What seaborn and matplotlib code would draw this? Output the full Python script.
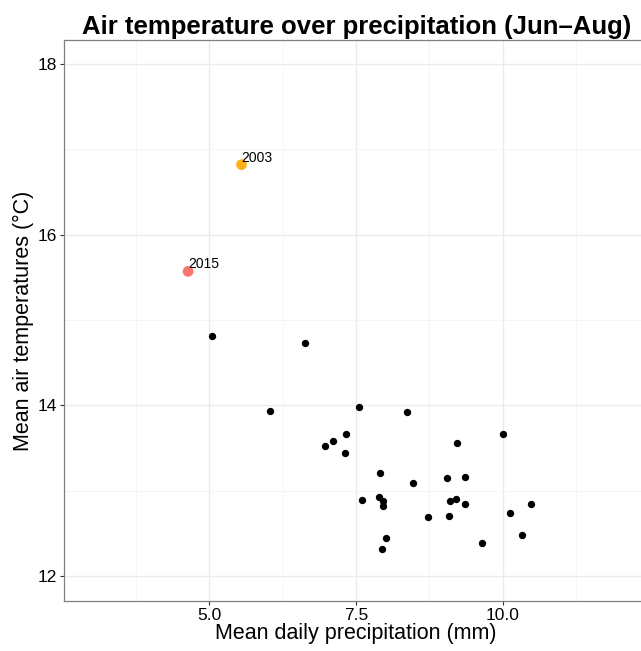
import numpy as np
import pandas as pd
import matplotlib
matplotlib.use("Agg")
import matplotlib.pyplot as plt
import seaborn as sns

# ---- data ----
precip = [5.55, 4.64, 5.05, 6.63, 6.03,
          7.56, 8.37, 7.34, 7.11, 6.97, 7.31, 10.00, 9.23, 7.91, 8.47,
          9.06, 9.36, 7.61, 7.90, 7.97, 7.97, 9.10, 9.20, 9.36, 10.48,
          10.12, 8.73, 9.09, 8.01, 7.95, 9.65, 10.33]
temp = [16.82, 15.57, 14.81, 14.73, 13.94,
        13.98, 13.92, 13.66, 13.58, 13.53, 13.44, 13.66, 13.56, 13.21, 13.09,
        13.15, 13.16, 12.89, 12.93, 12.88, 12.82, 12.88, 12.90, 12.85, 12.85,
        12.74, 12.69, 12.70, 12.45, 12.32, 12.39, 12.48]
labels = ["2003", "2015"] + [""] * 30
groups = ["2003", "2015"] + ["other"] * 30

x_ticks = [5.0, 7.5, 10.0]
y_ticks = [12, 14, 16, 18]

df = pd.DataFrame({"precip": precip, "temp": temp, "label": labels, "group": groups})

sns.set_theme(style="white")
plt.rcParams["font.family"] = ["Liberation Sans", "DejaVu Sans"]
plt.rcParams["text.color"] = "black"
plt.rcParams["axes.labelcolor"] = "black"

fig = plt.figure(figsize=(6.41, 6.51), dpi=100)
ax = fig.add_axes([64.3 / 641, 50 / 651, (648 - 64.3) / 641, (601 - 40) / 651])

palette = {"other": "black", "2003": "#FBB117", "2015": "#F8766D"}

others = df[df.group == "other"]
hl = df[df.group != "other"]
sns.scatterplot(data=others, x="precip", y="temp", color="black", s=28,
                linewidth=0, ax=ax, legend=False, zorder=3)
sns.scatterplot(data=hl, x="precip", y="temp", hue="group", palette=palette,
                s=60, linewidth=0, ax=ax, legend=False, zorder=3)

for _, r in hl.iterrows():
    ax.text(r.precip, r.temp, r.label, ha="left", va="bottom", fontsize=10,
            color="black", zorder=4)

ax.set_xlim(2.53, 12.48)
ax.set_ylim(11.71, 18.28)
ax.set_xticks(x_ticks)
ax.set_xticklabels([f"{v:.1f}" for v in x_ticks])
ax.set_yticks(y_ticks)
ax.set_xticks([3.75, 6.25, 8.75, 11.25], minor=True)
ax.set_yticks([13, 15, 17], minor=True)

ax.grid(which="major", color="#EBEBEB", linewidth=1.0)
ax.grid(which="minor", color="#F4F4F4", linewidth=0.6)
ax.set_axisbelow(True)

for side in ["left", "bottom", "top"]:
    ax.spines[side].set_visible(True)
    ax.spines[side].set_color("#7F7F7F")
    ax.spines[side].set_linewidth(0.9)
ax.spines["right"].set_visible(False)

ax.tick_params(axis="both", which="major", length=3, width=0.8, color="#333333",
               labelsize=12.5, labelcolor="black", pad=2, bottom=True, left=True)
ax.tick_params(axis="both", which="minor", length=0)

ax.set_xlabel("Mean daily precipitation (mm)", fontsize=15.5, labelpad=0,
              color="black")
ax.set_ylabel("Mean air temperatures (°C)", fontsize=15.5, labelpad=3,
              color="black")
ax.set_title("Air temperature over precipitation (Jun–Aug)", fontsize=18.5,
             fontweight="bold", pad=4, color="black")

fig.savefig("out.png", dpi=100)
